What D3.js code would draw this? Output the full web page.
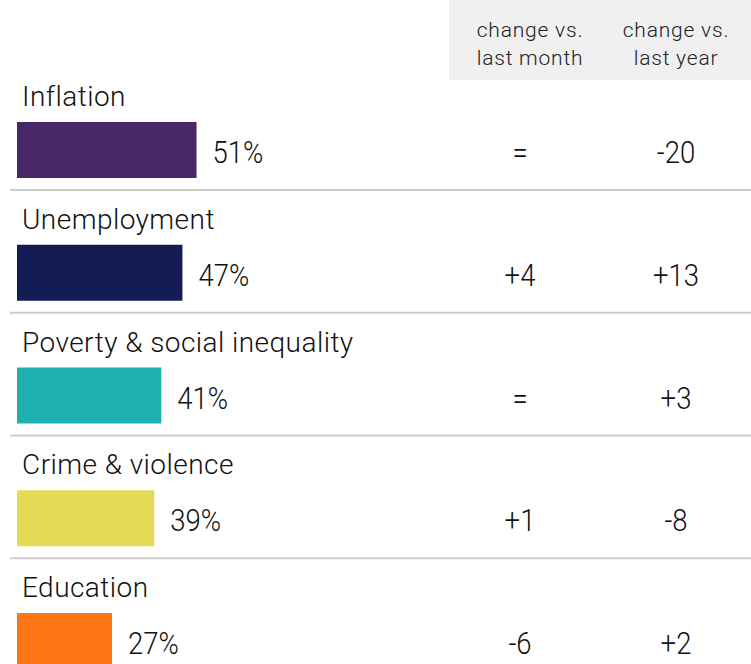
<!DOCTYPE html>
<html lang="en">
	<head>
		<meta charset="UTF-8" />
		<script src="https://d3js.org/d3.v7.min.js"></script>
		<title>Problems</title>
		<style>
			body { margin: 0; background: #fff; }
			svg { display: block; font-family: Roboto, sans-serif; font-weight: 300; }
		</style>
	</head>
	<body>
		<svg width="751" height="664"></svg>
		<script>
			const issues = ["Inflation", "Unemployment", "Poverty & social inequality", "Crime & violence", "Education"];
			const shares = [51, 47, 41, 39, 27];
			const vsMonth = ["=", "+4", "=", "+1", "-6"];
			const vsYear = ["-20", "+13", "+3", "-8", "+2"];
			const colors = ["#472768", "#141c56", "#1eb0ae", "#e3db55", "#fe7716"];
			const headers = [["change vs.", "last month"], ["change vs.", "last year"]];

			const svg = d3.select("svg");

			const y = d3.scaleBand()
				.domain(issues)
				.range([67, 67 + 122.75 * issues.length])
				.padding(0);
			const x = d3.scaleLinear().domain([0, 100]).range([0, 352]);
			const colX = [520, 676];
			const headX = [530, 676];
			const squeeze = 0.86; // values use a narrow face in the original

			// header box
			svg.append("rect")
				.attr("x", 449).attr("y", 0)
				.attr("width", 302).attr("height", 80)
				.attr("fill", "#f0f0f0");

			headers.forEach((lines, i) => {
				svg.append("text")
					.attr("x", headX[i])
					.attr("text-anchor", "middle")
					.attr("font-size", 21)
					.attr("letter-spacing", 0.8)
					.attr("fill", "#222")
					.selectAll("tspan")
					.data(lines)
					.join("tspan")
					.attr("x", headX[i])
					.attr("y", (d, j) => 37 + j * 28)
					.text(d => d);
			});

			const rows = svg.selectAll("g.row")
				.data(issues)
				.join("g")
				.attr("class", "row")
				.attr("transform", d => `translate(0,${y(d)})`)
				.attr("fill", "#111");

			rows.append("text")
				.attr("x", 22).attr("y", 39)
				.attr("font-size", 28)
				.attr("letter-spacing", 0.45)
				.text(d => d);

			rows.append("rect")
				.attr("x", 17).attr("y", 55)
				.attr("height", 56)
				.attr("width", (d, i) => x(shares[i]))
				.attr("fill", (d, i) => colors[i]);

			const vals = rows.append("g")
				.attr("font-size", 32);

			vals.append("text")
				.attr("transform", (d, i) => `translate(${17 + x(shares[i]) + 16},96) scale(${squeeze},1)`)
				.text((d, i) => shares[i] + "%");

			vals.append("text")
				.attr("transform", `translate(${colX[0]},96) scale(${squeeze},1)`)
				.attr("text-anchor", "middle")
				.text((d, i) => vsMonth[i]);

			vals.append("text")
				.attr("transform", `translate(${colX[1]},96) scale(${squeeze},1)`)
				.attr("text-anchor", "middle")
				.text((d, i) => vsYear[i]);

			rows.filter((d, i) => i < issues.length - 1)
				.append("line")
				.attr("x1", 10).attr("x2", 751)
				.attr("y1", 123).attr("y2", 123)
				.attr("stroke", "#cccccc")
				.attr("stroke-width", 2);
		</script>
	</body>
</html>
